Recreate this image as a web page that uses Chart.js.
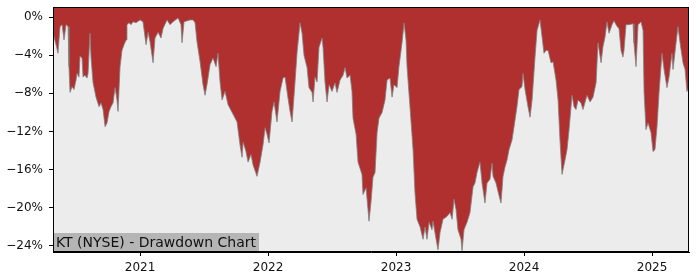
<!DOCTYPE html>
<html>
<head>
<meta charset="utf-8">
<script src="https://cdn.jsdelivr.net/npm/chart.js@4"></script>
<style>
  html, body { margin: 0; padding: 0; background: #ffffff; }
  #wrap { width: 700px; height: 280px; }
</style>
</head>
<body>
<div id="wrap"><canvas id="ddChart"></canvas></div>
<script>
// dates as decimal years, drawdown in percent
const dates = [
  2020.320, 2020.344, 2020.359, 2020.375, 2020.391, 2020.406, 2020.422, 2020.438, 2020.445, 2020.453,
  2020.469, 2020.484, 2020.500, 2020.508, 2020.523, 2020.531, 2020.547, 2020.555, 2020.570, 2020.586,
  2020.594, 2020.609, 2020.617, 2020.633, 2020.656, 2020.680, 2020.695, 2020.711, 2020.727, 2020.742,
  2020.758, 2020.773, 2020.789, 2020.805, 2020.820, 2020.828, 2020.844, 2020.859, 2020.875, 2020.891,
  2020.898, 2020.914, 2020.930, 2020.945, 2020.969, 2021.000, 2021.023, 2021.047, 2021.063, 2021.078,
  2021.102, 2021.117, 2021.141, 2021.164, 2021.180, 2021.211, 2021.234, 2021.258, 2021.297, 2021.320,
  2021.328, 2021.344, 2021.391, 2021.414, 2021.430, 2021.445, 2021.469, 2021.492, 2021.508, 2021.523,
  2021.547, 2021.570, 2021.594, 2021.609, 2021.625, 2021.641, 2021.664, 2021.688, 2021.727, 2021.758,
  2021.781, 2021.797, 2021.805, 2021.828, 2021.844, 2021.867, 2021.883, 2021.914, 2021.938, 2021.961,
  2021.977, 2021.992, 2022.008, 2022.031, 2022.047, 2022.070, 2022.094, 2022.117, 2022.133, 2022.156,
  2022.172, 2022.188, 2022.211, 2022.227, 2022.250, 2022.266, 2022.281, 2022.305, 2022.320, 2022.344,
  2022.352, 2022.367, 2022.383, 2022.398, 2022.422, 2022.430, 2022.445, 2022.461, 2022.477, 2022.500,
  2022.523, 2022.539, 2022.563, 2022.586, 2022.602, 2022.617, 2022.641, 2022.656, 2022.664, 2022.688,
  2022.703, 2022.734, 2022.742, 2022.766, 2022.789, 2022.805, 2022.820, 2022.836, 2022.852, 2022.867,
  2022.891, 2022.914, 2022.930, 2022.953, 2022.969, 2022.984, 2023.008, 2023.023, 2023.047, 2023.063,
  2023.078, 2023.086, 2023.109, 2023.133, 2023.148, 2023.164, 2023.188, 2023.211, 2023.227, 2023.242,
  2023.258, 2023.281, 2023.289, 2023.313, 2023.328, 2023.344, 2023.367, 2023.398, 2023.422, 2023.438,
  2023.453, 2023.469, 2023.484, 2023.508, 2023.516, 2023.531, 2023.555, 2023.578, 2023.602, 2023.617,
  2023.633, 2023.656, 2023.672, 2023.695, 2023.711, 2023.734, 2023.750, 2023.758, 2023.781, 2023.797,
  2023.820, 2023.836, 2023.852, 2023.867, 2023.883, 2023.906, 2023.922, 2023.945, 2023.961, 2023.984,
  2023.992, 2024.008, 2024.031, 2024.047, 2024.063, 2024.086, 2024.102, 2024.125, 2024.141, 2024.156,
  2024.172, 2024.188, 2024.211, 2024.227, 2024.250, 2024.266, 2024.281, 2024.297, 2024.320, 2024.336,
  2024.352, 2024.375, 2024.391, 2024.406, 2024.422, 2024.445, 2024.461, 2024.492, 2024.516, 2024.539,
  2024.563, 2024.578, 2024.602, 2024.617, 2024.633, 2024.648, 2024.664, 2024.688, 2024.703, 2024.727,
  2024.742, 2024.758, 2024.773, 2024.781, 2024.797, 2024.820, 2024.852, 2024.859, 2024.875, 2024.891,
  2024.914, 2024.930, 2024.938, 2024.953, 2024.969, 2024.992, 2025.008, 2025.023, 2025.039, 2025.055,
  2025.078, 2025.094, 2025.117, 2025.133, 2025.156, 2025.164, 2025.188, 2025.203, 2025.219, 2025.242,
  2025.258, 2025.273, 2025.289
];

const drawdown = [
  -1.7, -2.9, -3.8, -1.0, -0.8, -2.4, -0.8, -1.0, -5.2, -7.9,
  -7.3, -7.6, -6.6, -5.9, -6.3, -4.1, -4.3, -6.3, -6.1, -6.4,
  -5.9, -1.7, -4.2, -6.9, -8.4, -9.4, -9.0, -9.7, -11.5, -11.1,
  -9.9, -9.4, -9.0, -7.4, -8.7, -9.9, -5.2, -3.5, -2.9, -2.4,
  -0.8, -0.6, -0.8, -0.5, -0.6, -0.3, -0.5, -2.9, -1.6, -2.6,
  -4.8, -2.2, -1.6, -2.2, -1.2, -0.3, -0.8, -0.5, -0.1, -0.8,
  -2.7, -0.5, -0.3, -0.3, -0.6, -2.6, -4.7, -7.1, -8.2, -7.1,
  -5.0, -4.3, -5.2, -3.8, -6.8, -8.7, -7.8, -9.2, -10.2, -11.0,
  -13.4, -14.7, -13.1, -14.1, -15.2, -14.4, -15.5, -16.7, -15.2, -13.4,
  -11.6, -12.3, -13.2, -9.9, -8.9, -11.0, -7.8, -6.4, -6.3, -8.5,
  -9.9, -11.0, -6.8, -3.7, -0.6, -1.7, -4.0, -5.3, -7.4, -7.9,
  -8.9, -6.3, -6.8, -3.2, -2.2, -3.2, -6.8, -8.9, -7.1, -7.8,
  -6.9, -7.9, -6.6, -6.1, -5.3, -6.4, -6.1, -7.8, -10.6, -12.3,
  -15.2, -16.5, -18.6, -17.9, -21.4, -19.3, -16.8, -16.3, -12.1, -10.6,
  -10.0, -8.7, -6.6, -6.4, -8.4, -7.1, -7.4, -5.2, -2.7, -0.6,
  -2.4, -5.2, -9.4, -13.9, -18.4, -21.2, -22.0, -23.3, -22.0, -23.3,
  -21.5, -22.3, -21.4, -23.3, -24.4, -22.6, -21.2, -20.9, -20.5, -21.2,
  -19.1, -20.2, -22.3, -23.3, -24.5, -22.3, -21.5, -20.5, -17.8, -17.4,
  -16.3, -15.2, -17.4, -19.5, -17.4, -17.0, -15.3, -16.7, -17.4, -18.3,
  -19.5, -16.7, -15.7, -15.0, -13.9, -12.9, -11.5, -9.4, -7.6, -7.3,
  -5.9, -7.6, -9.4, -10.5, -8.7, -4.2, -1.4, -0.3, -2.1, -3.8,
  -3.5, -3.5, -4.8, -4.7, -6.6, -8.7, -12.9, -16.5, -15.0, -13.9,
  -11.8, -8.2, -9.4, -9.7, -8.7, -9.0, -9.7, -8.2, -8.9, -8.4,
  -6.9, -2.7, -4.8, -3.1, -2.1, -0.5, -1.7, -0.8, -0.4, -1.0,
  -1.2, -3.5, -4.2, -3.5, -0.8, -0.8, -0.7, -2.7, -5.2, -0.8,
  -0.5, -1.4, -7.9, -11.8, -11.1, -12.1, -14.1, -13.9, -11.5, -7.9,
  -3.8, -5.5, -7.4, -6.3, -3.8, -5.5, -2.7, -1.0, -2.7, -4.8,
  -5.5, -7.8, -7.3
];

const yearTicks = [2021, 2022, 2023, 2024, 2025];
const pctTicks = [0, -4, -8, -12, -16, -20, -24];
const chartLabel = 'KT (NYSE) - Drawdown Chart';

const points = dates.map((d, i) => ({ x: d, y: drawdown[i] }));

// plot background, frame and the label box
const framePlugin = {
    id: 'frame',
    beforeDatasetsDraw(chart) {
        const a = chart.chartArea;
        const ctx = chart.ctx;
        ctx.save();
        ctx.fillStyle = '#ececec';
        ctx.fillRect(a.left, a.top, a.right - a.left, a.bottom - a.top);
        ctx.restore();
    },
    afterDatasetsDraw(chart) {
        const a = chart.chartArea;
        const ctx = chart.ctx;
        ctx.save();
        ctx.font = '14px "DejaVu Sans"';
        const w = ctx.measureText(chartLabel).width;
        ctx.fillStyle = '#b5b5b5';
        ctx.fillRect(a.left, a.bottom - 19, w + 6, 19);
        ctx.fillStyle = '#111111';
        ctx.textBaseline = 'bottom';
        ctx.fillText(chartLabel, a.left + 3, a.bottom - 2);
        ctx.strokeStyle = '#000000';
        ctx.lineWidth = 1;
        ctx.strokeRect(a.left + 0.5, a.top + 0.5, a.right - a.left - 1, a.bottom - a.top - 1);
        ctx.restore();
    }
};

document.addEventListener('DOMContentLoaded', function() {
    const ctx = document.getElementById('ddChart').getContext('2d');
    new Chart(ctx, {
        type: 'line',
        data: {
            datasets: [{
                data: points,
                borderColor: '#808080',
                borderWidth: 0.8,
                backgroundColor: '#b03030',
                fill: 'end',
                pointRadius: 0,
                tension: 0
            }]
        },
        options: {
            responsive: true,
            maintainAspectRatio: false,
            animation: false,
            layout: { padding: { top: 7, right: 11, left: 0, bottom: 0 } },
            plugins: {
                legend: { display: false },
                tooltip: { enabled: false }
            },
            scales: {
                x: {
                    type: 'linear',
                    min: 2020.320,
                    max: 2025.289,
                    afterBuildTicks: s => { s.ticks = yearTicks.map(v => ({ value: v })); },
                    afterFit: s => { s.height = 28; s.paddingLeft = 0; s.paddingRight = 0; },
                    grid: { drawOnChartArea: false, drawTicks: true, tickLength: 4, tickColor: '#000000' },
                    border: { display: true, color: '#000000', width: 1 },
                    ticks: {
                        color: '#111111',
                        padding: 5,
                        maxRotation: 0,
                        font: { family: 'DejaVu Sans', size: 12 },
                        callback: v => String(v)
                    }
                },
                y: {
                    min: -24.63,
                    max: 1.05,
                    afterBuildTicks: s => { s.ticks = pctTicks.map(v => ({ value: v })); },
                    afterFit: s => { s.width = 53; s.paddingTop = 0; s.paddingBottom = 0; },
                    grid: { drawOnChartArea: false, drawTicks: true, tickLength: 4, tickColor: '#000000' },
                    border: { display: true, color: '#000000', width: 1 },
                    ticks: {
                        color: '#111111',
                        padding: 6,
                        font: { family: 'DejaVu Sans', size: 12 },
                        callback: v => (v < 0 ? '\u2212' : '') + Math.abs(v) + '%'
                    }
                }
            }
        },
        plugins: [framePlugin]
    });
});
</script>
</body>
</html>
